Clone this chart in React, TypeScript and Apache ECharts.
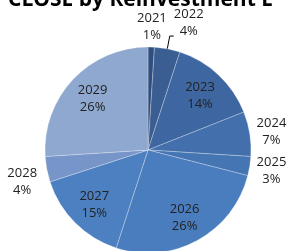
import React, { useEffect, useRef } from "react";
import * as echarts from "echarts";

const titleText = "CLOSE by Reinvestment E";
const years = ["2021", "2022", "2023", "2024", "2025", "2026", "2027", "2028", "2029"];
const shares = [1, 4, 14, 7, 3, 26, 15, 4, 26];
const sliceColors = ["#2F4D7E", "#3A5E92", "#3E66A0", "#4370AC", "#4675B3", "#4A7DBD", "#4D80C0", "#7795C8", "#8EA8CF"];
const insideLabelYears = ["2023", "2026", "2027", "2029"];
const ringLabelYears = ["2021", "2024", "2025", "2028"];
const leaderLabelYears = ["2022"];
const ringLabelNudge: Record<string, [number, number]> = { "2028": [-3, 7] };

const FONT = "Open Sans";
const CENTER = [148, 150];
const R = 103;

const baseLabel = {
  fontFamily: FONT,
  fontSize: 13,
  color: "#222",
  lineHeight: 17,
  formatter: "{b}\n{d}%",
};

export default function App() {
  const ref = useRef<HTMLDivElement>(null);
  useEffect(() => {
    if (!ref.current) return;
    const chart = echarts.init(ref.current, undefined, { renderer: "svg" });

    const mainData = years.map((y, i) => ({
      name: y,
      value: shares[i],
      itemStyle: { color: sliceColors[i] },
      label: leaderLabelYears.includes(y)
        ? {
            show: true,
            position: "outside",
            formatter: "{t|{b}}\n{t|{d}%}",
            padding: [0, 0, 30, 0],
            rich: {
              t: { fontFamily: FONT, fontSize: 13, color: "#222", lineHeight: 17, width: 30, align: "center" },
            },
          }
        : { show: false },
      labelLine: leaderLabelYears.includes(y)
        ? { show: true, length: 13, length2: 4, lineStyle: { color: "#000", width: 1 } }
        : { show: false },
    }));

    const overlay = (set: string[]) =>
      years.map((y, i) => ({
        name: y,
        value: shares[i],
        label: { show: set.includes(y) },
      }));

    const transparentSeries = {
      type: "pie",
      center: CENTER,
      startAngle: 90,
      clockwise: true,
      silent: true,
      avoidLabelOverlap: false,
      itemStyle: { color: "rgba(0,0,0,0)", borderWidth: 0 },
      labelLine: { show: false },
      emphasis: { disabled: true },
      label: { ...baseLabel, position: "inside" },
    };

    chart.setOption({
      animation: false,
      title: {
        text: titleText,
        left: 3,
        top: -18,
        textStyle: { fontFamily: FONT, fontWeight: "bold", fontSize: 21, color: "#000" },
      },
      series: [
        {
          type: "pie",
          center: CENTER,
          radius: R,
          startAngle: 90,
          clockwise: true,
          avoidLabelOverlap: false,
          itemStyle: { borderColor: "rgba(255,255,255,0.35)", borderWidth: 0.8 },
          label: { ...baseLabel, distanceToLabelLine: 0 },
          emphasis: { disabled: true },
          data: mainData,
        },
        { ...transparentSeries, radius: [43, R], data: overlay(insideLabelYears) },
        {
          ...transparentSeries,
          radius: [R, 141],
          data: overlay(ringLabelYears),
          labelLayout: (p: any) => {
            const n = ringLabelNudge[years[p.dataIndex]];
            return n ? { dx: n[0], dy: n[1] } : {};
          },
        },
      ],
    });
    return () => chart.dispose();
  }, []);
  return <div ref={ref} style={{ position: "fixed", left: 0, top: 0, width: 287, height: 251 }} />;
}
